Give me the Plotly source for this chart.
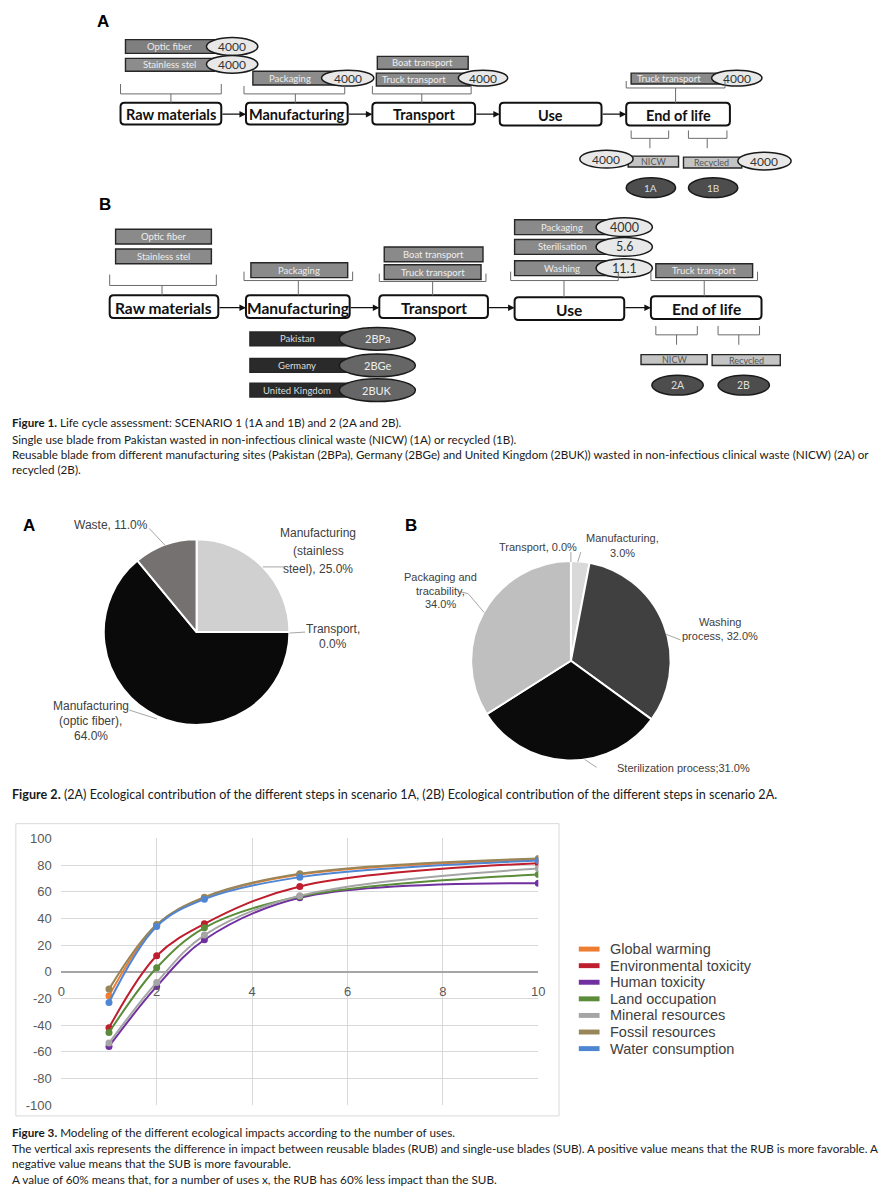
import plotly.graph_objects as go

# ---------------- DATA ----------------
# Figure 1 (life-cycle diagram)
stages = ["Raw materials", "Manufacturing", "Transport", "Use", "End of life"]
s1_raw_items = ["Optic fiber", "Stainless stel"]
s1_raw_values = ["4000", "4000"]
s1_manuf_items = ["Packaging"]
s1_manuf_values = ["4000"]
s1_transport_items = ["Boat transport", "Truck transport"]
s1_transport_values = [None, "4000"]
s1_eol_items = ["Truck transport"]
s1_eol_values = ["4000"]
s1_outputs = ["NICW", "Recycled"]
s1_output_values = ["4000", "4000"]
s1_scenarios = ["1A", "1B"]

s2_raw_items = ["Optic fiber", "Stainless stel"]
s2_manuf_items = ["Packaging"]
s2_sites = ["Pakistan", "Germany", "United Kingdom"]
s2_site_codes = ["2BPa", "2BGe", "2BUK"]
s2_transport_items = ["Boat transport", "Truck transport"]
s2_use_items = ["Packaging", "Sterilisation", "Washing"]
s2_use_values = ["4000", "5.6", "11.1"]
s2_eol_items = ["Truck transport"]
s2_outputs = ["NICW", "Recycled"]
s2_scenarios = ["2A", "2B"]

# Figure 2 (pies)
pieA_labels = ["Manufacturing (stainless steel)", "Transport", "Manufacturing (optic fiber)", "Waste"]
pieA_values = [25.0, 0.0, 64.0, 11.0]
pieA_colors = ["#d0d0d0", "#a0a0a0", "#0a0a0a", "#767171"]
pieB_labels = ["Transport", "Manufacturing", "Washing process", "Sterilization process", "Packaging and tracability"]
pieB_values = [0.0, 3.0, 32.0, 31.0, 34.0]
pieB_colors = ["#a0a0a0", "#d9d9d9", "#404040", "#0b0b0b", "#bfbfbf"]

# Figure 3 (lines)
uses = [1, 2, 3, 5, 10]
series_names = ["Global warming", "Environmental toxicity", "Human toxicity", "Land occupation",
                "Mineral resources", "Fossil resources", "Water consumption"]
global_warming = [-18, 35, 55.5, 73, 84]
environmental_toxicity = [-42, 12, 36, 64, 81.5]
human_toxicity = [-56, -11, 24, 55.5, 66.5]
land_occupation = [-45.5, 3, 33, 56.5, 73]
mineral_resources = [-53.5, -8, 27.5, 57, 77.5]
fossil_resources = [-13, 35.5, 56, 73.5, 85]
water_consumption = [-23, 34, 54.5, 71, 83.5]
series_colors = ["#ED7D31", "#BE1E2D", "#7030A0", "#5B8C3A", "#A5A5A5", "#988558", "#4F86D3"]
y_ticks = list(range(-100, 101, 20))
y_ticktext = [str(v) for v in y_ticks]
x_ticks = [0, 2, 4, 6, 8, 10]

cap1 = ["<b>Figure 1.</b> Life cycle assessment: SCENARIO 1 (1A and 1B) and 2 (2A and 2B).",
        "Single use blade from Pakistan wasted in non-infectious clinical waste (NICW) (1A) or recycled (1B).",
        "Reusable blade from different manufacturing sites (Pakistan (2BPa), Germany (2BGe) and United Kingdom (2BUK)) wasted in non-infectious clinical waste (NICW) (2A) or",
        "recycled (2B)."]
cap2 = ["<b>Figure 2.</b> (2A) Ecological contribution of the different steps in scenario 1A, (2B) Ecological contribution of the different steps in scenario 2A."]
cap3 = ["<b>Figure 3.</b> Modeling of the different ecological impacts according to the number of uses.",
        "The vertical axis represents the difference in impact between reusable blades (RUB) and single-use blades (SUB). A positive value means that the RUB is more favorable. A",
        "negative value means that the SUB is more favourable.",
        "A value of 60% means that, for a number of uses x, the RUB has 60% less impact than the SUB."]

# ---------------- HELPERS ----------------
W, H = 889, 1200
def X(x): return x / W
def Y(y): return 1 - y / H

shapes, annots = [], []
DF = "Lato, Carlito, sans-serif"
AF = "Liberation Sans, Arial, sans-serif"

def rect(x0, y0, x1, y1, fill, line="#222222", lw=1.3):
    shapes.append(dict(type="rect", xref="paper", yref="paper", x0=X(x0), x1=X(x1), y0=Y(y1), y1=Y(y0),
                       fillcolor=fill, line=dict(color=line, width=lw)))

def ellipse(cx, cy, w, h, fill, line="#1a1a1a", lw=1.5):
    shapes.append(dict(type="circle", xref="paper", yref="paper", x0=X(cx - w / 2), x1=X(cx + w / 2),
                       y0=Y(cy + h / 2), y1=Y(cy - h / 2), fillcolor=fill, line=dict(color=line, width=lw)))

def line(x0, y0, x1, y1, color="#a6a6a6", lw=1):
    shapes.append(dict(type="line", xref="paper", yref="paper", x0=X(x0), x1=X(x1), y0=Y(y0), y1=Y(y1),
                       line=dict(color=color, width=lw)))

def path(pts_str, color, lw, fill=None):
    d = dict(type="path", xref="paper", yref="paper", path=pts_str, line=dict(color=color, width=lw))
    if fill:
        d["fillcolor"] = fill
    shapes.append(d)

def rbox(x0, y0, x1, y1, r=4, lw=2):
    P = lambda x, y: f"{X(x):.5f},{Y(y):.5f}"
    s = (f"M {P(x0 + r, y0)} L {P(x1 - r, y0)} Q {P(x1, y0)} {P(x1, y0 + r)} L {P(x1, y1 - r)} "
         f"Q {P(x1, y1)} {P(x1 - r, y1)} L {P(x0 + r, y1)} Q {P(x0, y1)} {P(x0, y1 - r)} "
         f"L {P(x0, y0 + r)} Q {P(x0, y0)} {P(x0 + r, y0)} Z")
    path(s, "#111111", lw, "white")

def bracket(x0, x1, ytop, ymid, ybot, xc=None):
    xc = (x0 + x1) / 2 if xc is None else xc
    P = lambda x, y: f"{X(x):.5f},{Y(y):.5f}"
    s = (f"M {P(x0, ytop)} L {P(x0, ymid)} L {P(x1, ymid)} L {P(x1, ytop)} "
         f"M {P(xc, ymid)} L {P(xc, ybot)}")
    path(s, "#6b6b6b", 1)

def text(x, y, s, size, color="#111", family=DF, xanchor="center"):
    annots.append(dict(x=X(x), y=Y(y), xref="paper", yref="paper", text=s, showarrow=False,
                       xanchor=xanchor, yanchor="middle", font=dict(size=size, color=color, family=family)))

def arrow(x0, x1, y):
    annots.append(dict(x=X(x1), y=Y(y), xref="paper", yref="paper", ax=-(x1 - x0), ay=0, text="",
                       showarrow=True, arrowhead=2, arrowsize=1, arrowwidth=1.3, arrowcolor="#111"))

def subbar(x0, y0, x1, y1, label, fill="#8a8a8a", tcolor="#eeeeee", size=9.5, tx=None):
    rect(x0, y0, x1, y1, fill, "#262626", 1.4)
    text((x0 + x1) / 2 if tx is None else tx, (y0 + y1) / 2, label, size, tcolor)

def valell(cx, cy, w, h, label, fill="#e8e8e8", tcolor="#333", size=12):
    ellipse(cx, cy, w, h, fill)
    text(cx, cy, label, size, tcolor)

# ---------------- FIGURE 1A ----------------
text(100, 15, "<b>A</b>", 17, "#000", AF)
boxesA = [(118, 97, 220, 119), (245, 97, 348, 119), (373, 97, 477, 119), (502, 97, 605, 120), (630, 97, 735, 120)]
for (bx0, by0, bx1, by1), name in zip(boxesA, stages):
    rbox(bx0, by0, bx1, by1)
    text((bx0 + bx1) / 2, (by0 + by1) / 2 + 1, f"<b>{name}</b>", 14.5)
for i in range(4):
    arrow(boxesA[i][2], boxesA[i + 1][0], 108.5)

subbar(123, 33, 213, 47, s1_raw_items[0], "#7f7f7f")
valell(231, 40, 52, 18, s1_raw_values[0])
subbar(123, 52, 213, 65, s1_raw_items[1], "#8c8c8c")
valell(231, 58, 52, 18, s1_raw_values[1])
bracket(118, 220, 78, 88, 97, 169)

subbar(252, 65, 343, 79, s1_manuf_items[0], "#8c8c8c", tx=290)
valell(348, 72, 53, 16, s1_manuf_values[0])
bracket(243, 345, 80, 88, 97, 295)

subbar(378, 50, 470, 63, s1_transport_items[0])
subbar(377, 67, 472, 80, s1_transport_items[1], tx=415)
valell(485, 72, 50, 16, s1_transport_values[1])
bracket(373, 473, 80, 88, 97, 423)

subbar(635, 67, 730, 78, s1_eol_items[0], tx=673)
valell(742, 72, 51, 16, s1_eol_values[0])
bracket(630, 730, 75, 82, 97, 680)

bracket(635, 673, 125, 133, 143, 654)
bracket(693, 732, 125, 133, 143, 712)
subbar(632, 151, 683, 162, s1_outputs[0], "#c4c4c4", "#555", 9, tx=658)
valell(610, 154, 54, 18, s1_output_values[0])
subbar(688, 152, 747, 163, s1_outputs[1], "#c4c4c4", "#555", 9, tx=716)
valell(770, 156, 54, 18, s1_output_values[1])
valell(655, 183, 50, 20, s1_scenarios[0], "#4d4d4d", "#dddddd", 10)
valell(718, 183, 50, 20, s1_scenarios[1], "#4d4d4d", "#dddddd", 10)

# ---------------- FIGURE 1B ----------------
text(102, 200, "<b>B</b>", 17, "#000", AF)
boxesB = [(107, 292, 217, 315), (245, 292, 350, 315), (380, 292, 490, 315), (517, 294, 628, 317), (655, 293, 767, 316)]
for (bx0, by0, bx1, by1), name in zip(boxesB, stages):
    rbox(bx0, by0, bx1, by1)
    text((bx0 + bx1) / 2, (by0 + by1) / 2 + 1, f"<b>{name}</b>", 15.5)
for i in range(4):
    arrow(boxesB[i][2], boxesB[i + 1][0], 304.5)

subbar(113, 225, 210, 240, s2_raw_items[0])
subbar(113, 245, 210, 260, s2_raw_items[1])
bracket(107, 215, 271, 282, 292, 160)
subbar(250, 259, 348, 274, s2_manuf_items[0])
bracket(243, 353, 268, 277, 292, 298)
subbar(385, 243, 485, 258, s2_transport_items[0])
subbar(385, 261, 483, 276, s2_transport_items[1])
bracket(380, 488, 270, 278, 292, 434)

site_y = [336, 363, 388]
for name, code, cy in zip(s2_sites, s2_site_codes, site_y):
    subbar(249, cy - 7, 353, cy + 7, name, "#2a2a2a", "#dddddd", 9.5, tx=297)
    valell(378, cy, 77, 23, code, "#666666", "#eeeeee", 11)

use_y = [223, 243, 264.5]
for name, val, cy in zip(s2_use_items, s2_use_values, use_y):
    subbar(517, cy - 7.5, 615, cy + 7.5, name, "#8a8a8a", tx=565)
    valell(628, cy, 57, 19, val, size=12.5)
bracket(513, 622, 268, 277, 294, 567)
subbar(660, 260, 758, 274, s2_eol_items[0])
bracket(655, 763, 268, 277, 293, 709)

bracket(660, 702, 323, 332, 342, 681)
bracket(723, 765, 323, 332, 342, 744)
subbar(645, 352, 712, 362, s2_outputs[0], "#c4c4c4", "#555", 9)
subbar(717, 352, 786, 363, s2_outputs[1], "#c4c4c4", "#555", 9)
valell(682, 383, 52, 20, s2_scenarios[0], "#4d4d4d", "#dddddd", 10.5)
valell(749, 383, 52, 20, s2_scenarios[1], "#4d4d4d", "#dddddd", 10.5)

# ---------------- CAPTIONS ----------------
for s, y in zip(cap1, [421, 438, 453, 468]):
    text(6, y, s, 11.65, "#1a1a1a", DF, "left")
for s, y in zip(cap2, [797]):
    text(6, y, s, 12.6, "#1a1a1a", DF, "left")
for s, y in zip(cap3, [1139, 1155, 1171, 1187]):
    text(6, y, s, 11.7, "#1a1a1a", DF, "left")

# ---------------- FIGURE 2 ----------------
fig = go.Figure()
cA, rA = (195, 633), 94
cB, rB = (574, 662), 101
fig.add_trace(go.Pie(values=pieA_values, labels=pieA_labels, sort=False, direction="clockwise", rotation=0,
                     marker=dict(colors=pieA_colors, line=dict(color="white", width=2)), textinfo="none",
                     showlegend=False,
                     domain=dict(x=[X(cA[0] - rA), X(cA[0] + rA)], y=[Y(cA[1] + rA), Y(cA[1] - rA)])))
fig.add_trace(go.Pie(values=pieB_values, labels=pieB_labels, sort=False, direction="clockwise", rotation=0,
                     marker=dict(colors=pieB_colors, line=dict(color="white", width=2)), textinfo="none",
                     showlegend=False,
                     domain=dict(x=[X(cB[0] - rB), X(cB[0] + rB)], y=[Y(cB[1] + rB), Y(cB[1] - rB)])))

text(25, 525, "<b>A</b>", 17, "#000", AF)
text(412, 525, "<b>B</b>", 17, "#000", AF)
PC = "#404040"
def pct(v): return f"{v:.1f}%"
# pie A labels
text(108, 525, f"Waste, {pct(pieA_values[3])}", 12, PC, AF)
for s, y in zip(["Manufacturing", "(stainless", f"steel), {pct(pieA_values[0])}"], [533, 551, 569]):
    text(318, y, s, 12, PC, AF)
for s, y in zip(["Transport,", pct(pieA_values[1])], [630, 645]):
    text(333, y, s, 12, PC, AF)
for s, y in zip(["Manufacturing", "(optic fiber),", pct(pieA_values[2])], [708, 723, 738]):
    text(88, y, s, 12, PC, AF)
line(147, 528, 163, 545)
line(262, 567, 284, 567)
line(289, 634, 305, 633)
line(127, 712, 155, 721)
# pie B labels
text(541, 547, f"Transport, {pct(pieB_values[0])}", 11, PC, AF)
for s, y in zip(["Manufacturing,", pct(pieB_values[1])], [538, 553]):
    text(626, y, s, 11, PC, AF)
for s, y in zip(["Washing", f"process, {pct(pieB_values[2])}"], [623, 637]):
    text(725, y, s, 11, PC, AF)
text(688, 771, f"Sterilization process;{pct(pieB_values[3])}", 11, PC, AF)
for s, y in zip(["Packaging and", "tracability,", pct(pieB_values[4])], [577, 591, 605]):
    text(442, y, s, 11, PC, AF)
line(574, 552, 574, 562)
line(584, 552, 581, 562)
line(670, 635, 685, 641)
line(461, 592, 470, 594)
line(470, 594, 486, 613)
line(588, 762, 600, 770)

# ---------------- FIGURE 3 ----------------
series_values = [global_warming, environmental_toxicity, human_toxicity, land_occupation,
                 mineral_resources, fossil_resources, water_consumption]
for name, vals, col in zip(series_names, series_values, series_colors):
    fig.add_trace(go.Scatter(x=uses, y=vals, name=name, mode="lines+markers", showlegend=False,
                             line=dict(color=col, width=2, shape="spline", smoothing=1),
                             marker=dict(color=col, size=7), xaxis="x", yaxis="y"))

px0, px1, pyt, pyb = 58, 541, 842, 1112
zero_y = pyt + (pyb - pyt) * (100 - 0) / 200
rect(12, 827, 562, 1123, "rgba(0,0,0,0)", "#d9d9d9", 1)
# legend
for i, (name, col) in enumerate(zip(series_names, series_colors)):
    ly = 954 + i * 16.8
    shapes.append(dict(type="rect", xref="paper", yref="paper", x0=X(582), x1=X(603), y0=Y(ly + 2.5),
                       y1=Y(ly - 2.5), fillcolor=col, line=dict(width=0)))
    text(612, ly, name, 14.5, "#404040", AF, "left")

fig.update_layout(
    width=W, height=H, margin=dict(l=0, r=0, t=0, b=0), autosize=False,
    paper_bgcolor="white", plot_bgcolor="white", showlegend=False,
    xaxis=dict(domain=[X(px0), X(px1)], range=[0, 10], tickvals=x_ticks, showgrid=True, gridcolor="#d9d9d9",
               gridwidth=1, zeroline=False, showline=False, anchor="free", position=Y(zero_y),
               ticks="outside", ticklen=8, tickcolor="rgba(0,0,0,0)",
               tickfont=dict(family=AF, size=13, color="#595959"), fixedrange=True),
    yaxis=dict(domain=[Y(pyb), Y(pyt)], range=[-100, 100], tickvals=y_ticks, ticktext=y_ticktext,
               showgrid=True, gridcolor="#d9d9d9",
               gridwidth=1, zeroline=True, zerolinecolor="#a6a6a6", zerolinewidth=1.6, showline=False,
               ticks="outside", ticklen=6, tickcolor="rgba(0,0,0,0)",
               tickfont=dict(family=AF, size=13, color="#595959"), fixedrange=True),
    shapes=shapes, annotations=annots,
)
fig.write_html("out.html", config={"displayModeBar": False},
               post_script="document.body.style.margin='0';document.body.style.padding='0';")
